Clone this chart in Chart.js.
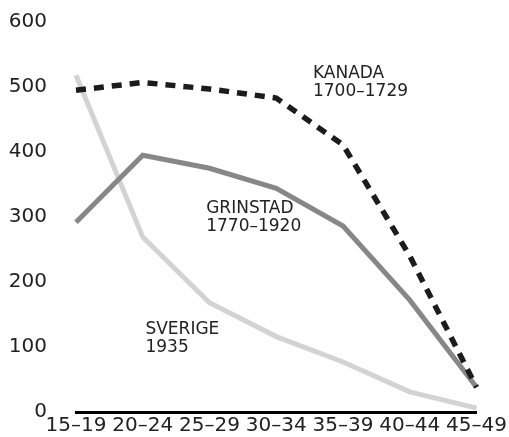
<!DOCTYPE html>
<html>
<head>
<meta charset="utf-8">
<script src="https://cdn.jsdelivr.net/npm/chart.js@4.4.1/dist/chart.umd.min.js"></script>
<style>
  html, body { margin: 0; padding: 0; background: #fff; }
  #wrap { width: 509px; height: 437px; }
</style>
</head>
<body>
<div id="wrap"><canvas id="grafico"></canvas></div>
<script>
const aldrar = ['15–19', '20–24', '25–29', '30–34', '35–39', '40–44', '45–49'];
const kanada = [495, 507, 497, 483, 411, 240, 38];
const grinstad = [292, 395, 375, 344, 286, 172, 38];
const sverige = [518, 269, 168, 116, 77, 31, 6];
const yTicks = [0, 100, 200, 300, 400, 500, 600];

// etiketter i diagrammet: [rader, kategoriindex, värde]
const etiketter = [
  { rader: ['KANADA', '1700–1729'], x: 3.55, y: 533 },
  { rader: ['GRINSTAD', '1770–1920'], x: 1.95, y: 326 },
  { rader: ['SVERIGE', '1935'], x: 1.04, y: 140 }
];

const textPlugin = {
  id: 'textPlugin',
  afterDatasetsDraw(chart) {
    const c = chart.ctx;
    const xs = chart.scales.x, ys = chart.scales.y;
    c.save();
    c.font = '17px "DejaVu Sans"';
    c.fillStyle = '#222';
    c.textBaseline = 'top';
    c.textAlign = 'left';
    etiketter.forEach(e => {
      const px = xs.getPixelForValue(e.x);
      const py = ys.getPixelForValue(e.y);
      e.rader.forEach((r, i) => c.fillText(r, px, py + i * 18));
    });
    c.restore();
  }
};

const ctx = document.getElementById('grafico').getContext('2d');
new Chart(ctx, {
  type: 'line',
  data: {
    labels: aldrar,
    datasets: [
      { label: 'Kanada', data: kanada, borderColor: '#1c1c1c', borderWidth: 5.5, borderDash: [10, 8] },
      { label: 'Grinstad', data: grinstad, borderColor: '#878787', borderWidth: 5 },
      { label: 'Sverige', data: sverige, borderColor: '#d3d3d3', borderWidth: 5 }
    ]
  },
  options: {
    responsive: true,
    maintainAspectRatio: false,
    animation: false,
    layout: { padding: { left: 9, top: 22, right: 0, bottom: 1 } },
    elements: {
      point: { radius: 0, hoverRadius: 0 },
      line: { tension: 0, fill: false, borderCapStyle: 'butt', borderJoinStyle: 'miter' }
    },
    plugins: {
      legend: { display: false },
      tooltip: { enabled: false }
    },
    scales: {
      x: {
        offset: false,
        grid: { display: false, drawTicks: false },
        border: { display: true, color: '#000', width: 3 },
        ticks: { color: '#222', font: { family: 'DejaVu Sans', size: 20 }, padding: 2, maxRotation: 0, autoSkip: false },
        afterFit: s => { s.height = 24; s.paddingLeft = 0; }
      },
      y: {
        min: 0,
        max: 600,
        afterBuildTicks: s => { s.ticks = yTicks.map(v => ({ value: v })); },
        grid: { display: false, drawTicks: false },
        border: { display: false },
        ticks: { color: '#222', font: { family: 'DejaVu Sans', size: 20 }, padding: 29 },
        afterFit: s => { s.width = 67; s.paddingTop = 0; s.paddingBottom = 0; }
      }
    }
  },
  plugins: [textPlugin]
});
</script>
</body>
</html>
